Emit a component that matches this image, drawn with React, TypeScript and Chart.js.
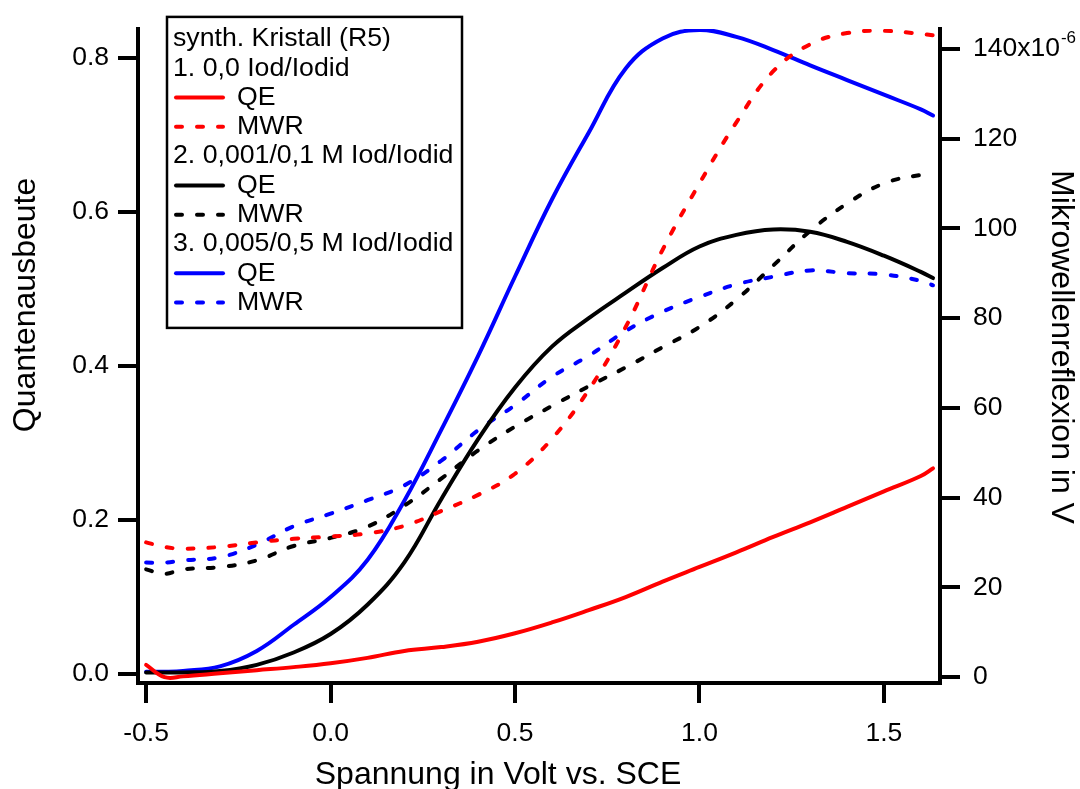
import React, { useEffect, useRef } from "react";
import { Chart, registerables } from "chart.js";

Chart.register(...registerables);

// ---- data ----
const VOLTS = [-0.5, -0.45, -0.4, -0.3, -0.2, -0.1, 0, 0.1, 0.2, 0.3, 0.4, 0.5, 0.6, 0.7, 0.8, 0.9, 1.0, 1.1, 1.2, 1.3, 1.4, 1.5, 1.6, 1.633];

const QE_1 = [0.012, -0.004, -0.003, 0.001, 0.005, 0.009, 0.014, 0.021, 0.03, 0.035, 0.042, 0.053, 0.067, 0.083, 0.1, 0.12, 0.139, 0.158, 0.178, 0.197, 0.217, 0.237, 0.257, 0.267];
const MWR_1 = [30, 29, 28.6, 29, 30, 30.8, 31.3, 32, 33.7, 37, 40.6, 45.3, 53.1, 64, 78, 95.2, 110, 123.6, 135, 141, 143.5, 144, 143.3, 143];
const QE_2 = [0.002, 0.002, 0.002, 0.004, 0.012, 0.028, 0.052, 0.09, 0.145, 0.227, 0.305, 0.372, 0.425, 0.462, 0.495, 0.527, 0.555, 0.57, 0.577, 0.574, 0.561, 0.543, 0.522, 0.514];
const MWR_2 = [24, 23, 24, 24.5, 26, 29.2, 31, 33.5, 38.2, 44.2, 50.5, 55.8, 60.4, 64.8, 69, 73.5, 78, 84.1, 91.7, 99.4, 105.5, 110, 111.9, 112];
const QE_3 = [0.003, 0.003, 0.004, 0.01, 0.03, 0.064, 0.1, 0.148, 0.225, 0.317, 0.413, 0.516, 0.616, 0.703, 0.786, 0.825, 0.836, 0.827, 0.81, 0.79, 0.771, 0.752, 0.733, 0.725];
const MWR_3 = [25.5, 25.5, 26, 26.7, 29.5, 33.6, 36.4, 39.4, 42.7, 48.2, 55, 60.6, 66.9, 71.6, 77.1, 81.4, 84.7, 87.5, 89.2, 90.6, 90, 89.7, 88.3, 87.3];

const X_TICKS = [-0.5, 0, 0.5, 1.0, 1.5];
const Y_LEFT_TICKS = [0, 0.2, 0.4, 0.6, 0.8];
const Y_RIGHT_TICKS = [0, 20, 40, 60, 80, 100, 120, 140];

const LEGEND_TITLE = "synth. Kristall (R5)";
const GROUP_TITLES = ["1. 0,0 Iod/Iodid", "2. 0,001/0,1 M Iod/Iodid", "3. 0,005/0,5 M Iod/Iodid"];
const GROUP_COLORS = ["#ff0000", "#000000", "#0000ff"];

const X_TITLE = "Spannung in Volt vs. SCE";
const Y_LEFT_TITLE = "Quantenausbeute";
const Y_RIGHT_TITLE = "Mikrowellenreflexion in V";

const FONT = "'Liberation Sans', Arial, sans-serif";
const DASH = [6, 15];

const toPts = (ys: number[]) => ys.map((y, i) => ({ x: VOLTS[i], y }));

const overlayPlugin = {
  id: "overlay",
  afterDraw(chart: any) {
    const ctx = chart.ctx as CanvasRenderingContext2D;
    const ca = chart.chartArea;
    ctx.save();
    ctx.fillStyle = "#000";
    // axis titles
    ctx.font = `32px ${FONT}`;
    ctx.textAlign = "center";
    ctx.textBaseline = "alphabetic";
    ctx.fillText(X_TITLE, 498, 784);
    ctx.textBaseline = "middle";
    ctx.save();
    ctx.translate(26, 305);
    ctx.rotate(-Math.PI / 2);
    ctx.fillText(Y_LEFT_TITLE, 0, 0);
    ctx.restore();
    ctx.save();
    ctx.translate(1061, 347);
    ctx.rotate(Math.PI / 2);
    ctx.fillText(Y_RIGHT_TITLE, 0, 0);
    ctx.restore();

    // superscript on top right tick
    const yr = chart.scales.yR;
    const topVal = Y_RIGHT_TICKS[Y_RIGHT_TICKS.length - 1];
    const py = yr.getPixelForValue(topVal);
    ctx.font = `26.5px ${FONT}`;
    const w = ctx.measureText(`${topVal}x10`).width;
    ctx.font = `17px ${FONT}`;
    ctx.textAlign = "left";
    ctx.fillText("-6", ca.right + 34 + w, py - 10);

    // legend
    const lx = ca.left + 29;
    const ly = ca.top - 12;
    const lw = 295;
    const lh = 311;
    ctx.fillStyle = "#fff";
    ctx.fillRect(lx, ly, lw, lh);
    ctx.lineWidth = 2.5;
    ctx.strokeStyle = "#000";
    ctx.strokeRect(lx, ly, lw, lh);
    ctx.font = `26.7px ${FONT}`;
    ctx.textAlign = "left";
    ctx.textBaseline = "middle";
    const step = 29.3;
    let row = 0;
    const rowY = (r: number) => ly + 22 + r * step;
    ctx.fillStyle = "#000";
    ctx.fillText(LEGEND_TITLE, lx + 6, rowY(row++));
    GROUP_TITLES.forEach((g, gi) => {
      ctx.fillStyle = "#000";
      ctx.fillText(g, lx + 6, rowY(row++));
      ["QE", "MWR"].forEach((lab, k) => {
        const y = rowY(row++);
        ctx.beginPath();
        ctx.strokeStyle = GROUP_COLORS[gi];
        ctx.lineWidth = 4;
        ctx.lineCap = "round";
        ctx.setLineDash(k === 1 ? DASH : []);
        ctx.moveTo(lx + 9, y);
        ctx.lineTo(lx + 56, y);
        ctx.stroke();
        ctx.setLineDash([]);
        ctx.fillStyle = "#000";
        ctx.fillText(lab, lx + 70, y);
      });
    });
    ctx.restore();
  },
};

export default function App() {
  const ref = useRef<HTMLCanvasElement | null>(null);
  useEffect(() => {
    if (!ref.current) return;
    const mk = (label: string, data: number[], color: string, axis: string, dashed: boolean) => ({
      label,
      data: toPts(data),
      borderColor: color,
      backgroundColor: color,
      borderWidth: 4,
      borderDash: dashed ? DASH : [],
      borderCapStyle: "round",
      borderJoinStyle: "round",
      pointRadius: 0,
      tension: 0.4,
      yAxisID: axis,
      fill: false,
    });
    const tickFont = { family: FONT, size: 26.5 };
    const gridCfg = { display: true, drawOnChartArea: false, drawTicks: true, tickLength: 20, tickWidth: 4, color: "#000", lineWidth: 4 };
    const borderCfg = { display: true, color: "#000", width: 4 };
    const chart = new Chart(ref.current, {
      type: "line",
      data: {
        datasets: [
          mk("QE 1", QE_1, GROUP_COLORS[0], "yL", false),
          mk("MWR 1", MWR_1, GROUP_COLORS[0], "yR", true),
          mk("QE 2", QE_2, GROUP_COLORS[1], "yL", false),
          mk("MWR 2", MWR_2, GROUP_COLORS[1], "yR", true),
          mk("QE 3", QE_3, GROUP_COLORS[2], "yL", false),
          mk("MWR 3", MWR_3, GROUP_COLORS[2], "yR", true),
        ] as any,
      },
      options: {
        responsive: false,
        animation: false,
        layout: { padding: { top: 25, left: 0, right: 0, bottom: 0 } },
        plugins: { legend: { display: false }, tooltip: { enabled: false } },
        scales: {
          x: {
            type: "linear",
            position: "bottom",
            min: -0.522,
            max: 1.652,
            afterBuildTicks: (s: any) => { s.ticks = X_TICKS.map((v) => ({ value: v })); },
            afterFit: (s: any) => { s.height = 106; },
            ticks: { font: tickFont, color: "#000", padding: 15, maxRotation: 0, callback: (v: any) => Number(v).toFixed(1) },
            grid: gridCfg,
            border: borderCfg,
          },
          yL: {
            type: "linear",
            position: "left",
            min: -0.0116,
            max: 0.8374,
            afterBuildTicks: (s: any) => { s.ticks = Y_LEFT_TICKS.map((v) => ({ value: v })); },
            afterFit: (s: any) => { s.width = 138; },
            ticks: { font: tickFont, color: "#000", padding: 9, callback: (v: any) => Number(v).toFixed(1) },
            grid: gridCfg,
            border: borderCfg,
          },
          yR: {
            type: "linear",
            position: "right",
            min: -1.33,
            max: 144.43,
            afterBuildTicks: (s: any) => { s.ticks = Y_RIGHT_TICKS.map((v) => ({ value: v })); },
            afterFit: (s: any) => { s.width = 140; },
            ticks: {
              font: tickFont,
              color: "#000",
              padding: 13,
              callback: (v: any) => (Number(v) === Y_RIGHT_TICKS[Y_RIGHT_TICKS.length - 1] ? `${v}x10` : `${v}`),
            },
            grid: gridCfg,
            border: borderCfg,
          },
        },
      } as any,
      plugins: [overlayPlugin],
    });
    return () => chart.destroy();
  }, []);
  return (
    <div style={{ position: "absolute", left: 0, top: 0, width: 1080, height: 789, background: "#fff" }}>
      <canvas ref={ref} width={1080} height={789} style={{ display: "block", width: 1080, height: 789 }} />
    </div>
  );
}
